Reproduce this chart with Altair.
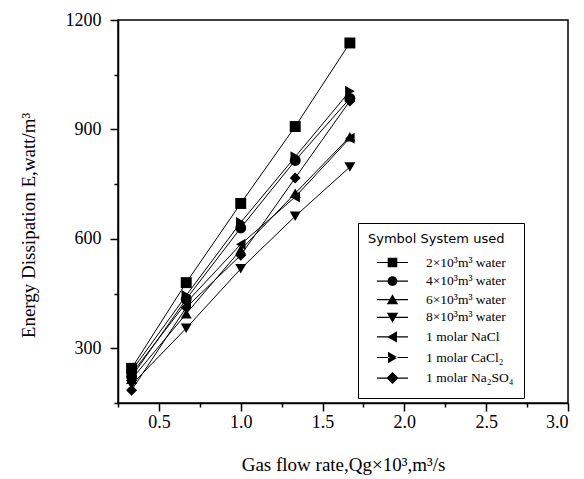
import altair as alt
import pandas as pd

# ---- data ----
gas_flow = [0.333, 0.667, 1.0, 1.333, 1.667]
series_names = [
    "2×10³m³ water",
    "4×10³m³ water",
    "6×10³m³ water",
    "8×10³m³ water",
    "1 molar NaCl",
    "1 molar CaCl₂",
    "1 molar Na₂SO₄",
]
e_2water = [245, 480, 697, 908, 1137]
e_4water = [222, 435, 630, 815, 985]
e_6water = [215, 395, 570, 725, 880]
e_8water = [200, 355, 518, 662, 797]
e_nacl = [230, 425, 585, 715, 876]
e_cacl2 = [238, 445, 645, 825, 1005]
e_na2so4 = [185, 412, 555, 767, 978]

all_values = [e_2water, e_4water, e_6water, e_8water, e_nacl, e_cacl2, e_na2so4]

x_major = [0.5, 1.0, 1.5, 2.0, 2.5, 3.0]
x_minor = [0.25, 0.75, 1.25, 1.75, 2.25, 2.75]
y_major = [300, 600, 900, 1200]
y_minor = [150, 450, 750, 1050]

plot_shapes = ["square", "circle", "triangle-up", "triangle-down",
               "triangle-left", "triangle-right", "diamond"]
# legend glyphs: a short line with the marker on it (filled outlines only)
LINE = "M-2.07,-0.08H-0.4V0.08H-2.07Z M0.4,-0.08H2.07V0.08H0.4Z "
legend_shapes = [
    LINE + "M-0.64,-0.64H0.64V0.64H-0.64Z",
    LINE + "M0.66,0A0.66,0.66 0 1,1 -0.66,0A0.66,0.66 0 1,1 0.66,0Z",
    LINE + "M0,-0.72L0.76,0.6H-0.76Z",
    LINE + "M0,0.72L0.76,-0.6H-0.76Z",
    LINE + "M-0.72,0L0.6,-0.76V0.76Z",
    LINE + "M0.72,0L-0.6,-0.76V0.76Z",
    LINE + "M0,-0.8L0.8,0L0,0.8L-0.8,0Z",
]

rows = []
for name, vals in zip(series_names, all_values):
    for xv, yv in zip(gas_flow, vals):
        rows.append({"Q": xv, "E": yv, "series": name})
df = pd.DataFrame(rows)

SERIF = "Liberation Serif"

x_scale = alt.Scale(domain=[0.25, 3.0], nice=False, zero=False)
y_scale = alt.Scale(domain=[150, 1200], nice=False, zero=False)

base = alt.Chart(df)

lines = base.mark_line(color="black", strokeWidth=1).encode(
    x=alt.X("Q:Q", scale=x_scale,
            axis=alt.Axis(values=x_major, format=".1f", tickSize=8, orient="bottom",
                          labelFont=SERIF, labelFontSize=18, labelColor="black",
                          title="Gas flow rate,Qg×10³,m³/s",
                          titleFont=SERIF, titleFontSize=19, titleFontWeight="normal",
                          titleY=67, titleBaseline="alphabetic", labelPadding=2)),
    y=alt.Y("E:Q", scale=y_scale,
            axis=alt.Axis(values=y_major, format="d", tickSize=8, orient="left",
                          labelFont=SERIF, labelFontSize=18, labelColor="black",
                          title="Energy Dissipation E,watt/m³",
                          titleFont=SERIF, titleFontSize=19, titleFontWeight="normal",
                          titleX=-80, titleY=205, labelPadding=9)),
    detail="series:N",
)

points = base.mark_point(filled=True, color="black", size=120, opacity=1).encode(
    x=alt.X("Q:Q", scale=x_scale,
            axis=alt.Axis(values=x_minor, tickSize=4, labels=False, domain=False,
                          title="", orient="bottom")),
    y=alt.Y("E:Q", scale=y_scale,
            axis=alt.Axis(values=y_minor, tickSize=4, labels=False, domain=False,
                          title="", orient="left")),
    shape=alt.Shape("series:N",
                    scale=alt.Scale(domain=series_names, range=plot_shapes),
                    legend=None),
)

legend_layer = base.transform_filter("false").mark_point(
    filled=True, color="black", size=225, opacity=1
).encode(
    shape=alt.Shape("series:N",
                    scale=alt.Scale(domain=series_names, range=legend_shapes),
                    legend=alt.Legend(
                        orient="none", legendX=240, legendY=203,
                        title="Symbol System used",
                        titleFont="DejaVu Sans", titleFontSize=13,
                        titleFontWeight="normal", titleColor="black",
                        titlePadding=8, titleLimit=400,
                        labelFont=SERIF, labelFontSize=13.5, labelColor="black",
                        labelOffset=25, symbolOffset=16, labelLimit=300,
                        strokeColor="black", fillColor="white", padding=10,
                        symbolSize=225, symbolFillColor="black",
                        rowPadding=1.6,
                    )),
)

chart = alt.layer(lines, points, legend_layer).resolve_scale(
    shape="independent"
).resolve_axis(
    x="independent", y="independent"
).properties(
    width=450, height=383,
    autosize=alt.AutoSizeParams(type="none"),
    padding={"left": 110, "top": 12, "right": 8, "bottom": 74},
).configure_view(
    stroke="black", strokeWidth=1.5
).configure_axis(
    grid=False, domainColor="black", domainWidth=1.5,
    tickColor="black", tickWidth=1.5,
    labelFont=SERIF, labelFontSize=18, labelColor="black",
    titleColor="black",
)

chart.save("out.html", embed_options={"renderer": "svg", "actions": False})
